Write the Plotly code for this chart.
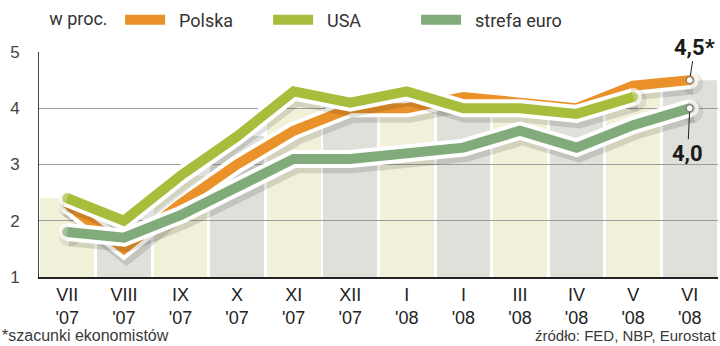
import plotly.graph_objects as go

# ---- data ----
months = ["VII<br>'07", "VIII<br>'07", "IX<br>'07", "X<br>'07", "XI<br>'07", "XII<br>'07",
          "I<br>'08", "I<br>'08", "III<br>'08", "IV<br>'08", "V<br>'08", "VI<br>'08"]
polska = [2.3, 1.5, 2.3, 3.0, 3.6, 4.0, 4.0, 4.2, 4.1, 4.0, 4.4, 4.5]
usa = [2.4, 2.0, 2.8, 3.5, 4.3, 4.1, 4.3, 4.0, 4.0, 3.9, 4.2, None]
euro = [1.8, 1.7, 2.1, 2.6, 3.1, 3.1, 3.2, 3.3, 3.6, 3.3, 3.7, 4.0]
yticks = [1, 2, 3, 4, 5]

C_PL = "#EA9229"
C_US = "#A6BE3B"
C_EU = "#82AB7C"
BAR_A = "#F1F0D8"
BAR_B = "#E0E0DA"

n = len(months)
xs = list(range(n))
YMIN, YMAX = 1, 5
XMIN, XMAX = -0.5, n - 0.5

# upper envelope of the series (background stripes reach up to it)
top = [max(v for v in (p, u, e) if v is not None) for p, u, e in zip(polska, usa, euro)]

fig = go.Figure()

# ---- subplot 1: background stripes ----
fig.add_trace(go.Bar(
    x=xs, y=top, width=0.95,
    marker=dict(color=[BAR_A if i % 2 == 0 else BAR_B for i in xs], line=dict(width=0)),
    showlegend=False, hoverinfo="skip", xaxis="x", yaxis="y"))
env_x = [XMIN] + xs + [XMAX]
env_y = [top[0]] + top + [top[-1]]
fig.add_trace(go.Scatter(
    x=env_x + [XMAX, XMIN], y=env_y + [YMAX + 1, YMAX + 1],
    fill="toself", fillcolor="white", mode="lines", line=dict(width=0, color="white"),
    showlegend=False, hoverinfo="skip", xaxis="x", yaxis="y"))

NB = "\u00a0"


def add_series(vals, color, name):
    px = [x for x, v in zip(xs, vals) if v is not None]
    py = [v for v in vals if v is not None]
    ends = [10 if (i == 0 or i == len(px) - 1) else 0 for i in range(len(px))]
    ends_w = [18 if s else 0 for s in ends]
    ends_s = [22 if s else 0 for s in ends]
    # soft shadow
    fig.add_trace(go.Scatter(
        x=[x + 0.045 for x in px], y=[y - 0.06 for y in py], mode="lines+markers",
        line=dict(color="rgba(0,0,0,0.12)", width=22),
        marker=dict(size=ends_s, color="rgba(0,0,0,0.12)", line=dict(width=0)),
        showlegend=False, hoverinfo="skip", xaxis="x2", yaxis="y2"))
    # white outline
    fig.add_trace(go.Scatter(
        x=px, y=py, mode="lines+markers", line=dict(color="white", width=18),
        marker=dict(size=ends_w, color="white", line=dict(width=0)),
        showlegend=False, hoverinfo="skip", xaxis="x2", yaxis="y2"))
    # colored line
    fig.add_trace(go.Scatter(
        x=px, y=py, mode="lines", line=dict(color=color, width=10),
        name=NB * 2 + name,
        showlegend=True, xaxis="x2", yaxis="y2"))
    fig.add_trace(go.Scatter(
        x=px, y=py, mode="markers",
        marker=dict(size=ends, color=color, line=dict(width=0)),
        showlegend=False, hoverinfo="skip", xaxis="x2", yaxis="y2"))


add_series(polska, C_PL, "Polska")
add_series(usa, C_US, "USA")
add_series(euro, C_EU, "strefa euro")

# end-point dots for the annotated values
fig.add_trace(go.Scatter(
    x=[xs[-1], xs[-1]], y=[polska[-1], euro[-1]], mode="markers",
    marker=dict(size=7, color="white", line=dict(color="#666", width=1)),
    showlegend=False, hoverinfo="skip", xaxis="x2", yaxis="y2"))

fig.add_annotation(x=xs[-1], y=polska[-1], xref="x2", yref="y2", text="<b>4,5*</b>",
                   showarrow=True, arrowhead=0, arrowwidth=1, arrowcolor="#222",
                   ax=5, ay=-33, standoff=4,
                   font=dict(family="Roboto", size=22, color="#1a1a1a"))
fig.add_annotation(x=xs[-1], y=euro[-1], xref="x2", yref="y2", text="<b>4,0</b>",
                   showarrow=True, arrowhead=0, arrowwidth=1, arrowcolor="#222",
                   ax=-2, ay=45, standoff=4,
                   font=dict(family="Roboto", size=22, color="#1a1a1a"))

fig.add_annotation(x=-0.0574, y=-0.262, xref="paper", yref="paper", xanchor="left",
                   yanchor="middle", text="*szacunki ekonomistów", showarrow=False,
                   font=dict(family="Liberation Sans", size=16, color="#3a3a3a"))
fig.add_annotation(x=1.0, y=-0.258, xref="paper", yref="paper", xanchor="right",
                   yanchor="middle", text="źródło: FED, NBP, Eurostat", showarrow=False,
                   font=dict(family="Liberation Sans", size=15, color="#3a3a3a"))

fig.update_layout(
    width=720, height=346,
    margin=dict(l=39, r=2, t=45, b=69),
    paper_bgcolor="white", plot_bgcolor="rgba(0,0,0,0)",
    bargap=0,
    showlegend=True,
    legend=dict(orientation="h", x=0.012, xanchor="left", y=1.142, yanchor="middle",
                title=dict(text="w proc." + NB, side="left",
                           font=dict(family="Roboto", size=18, color="#333")),
                font=dict(family="Roboto", size=18, color="#333"),
                itemwidth=40, entrywidth=93, entrywidthmode="pixels",
                bgcolor="rgba(0,0,0,0)", traceorder="normal"),
    xaxis=dict(domain=[0, 1], range=[XMIN, XMAX], visible=False, fixedrange=True),
    yaxis=dict(domain=[0, 1], range=[YMIN, YMAX], visible=False, fixedrange=True),
    xaxis2=dict(domain=[0, 1], range=[XMIN, XMAX], anchor="y2",
                tickmode="array", tickvals=xs, ticktext=months,
                showgrid=False, zeroline=False, showline=True, linecolor="#222",
                linewidth=2, ticks="", ticklabelstandoff=0,
                tickfont=dict(family="Liberation Sans", size=18, color="#222")),
    yaxis2=dict(domain=[0, 1], range=[YMIN, YMAX], anchor="x2",
                tickmode="array", tickvals=yticks,
                showgrid=True, gridcolor="#9c9c9c", gridwidth=1, zeroline=False,
                showline=True, linecolor="#444", linewidth=1, ticks="",
                ticklabelstandoff=15,
                tickfont=dict(family="Liberation Sans", size=17, color="#444")),
)

fig.write_html("out.html")
